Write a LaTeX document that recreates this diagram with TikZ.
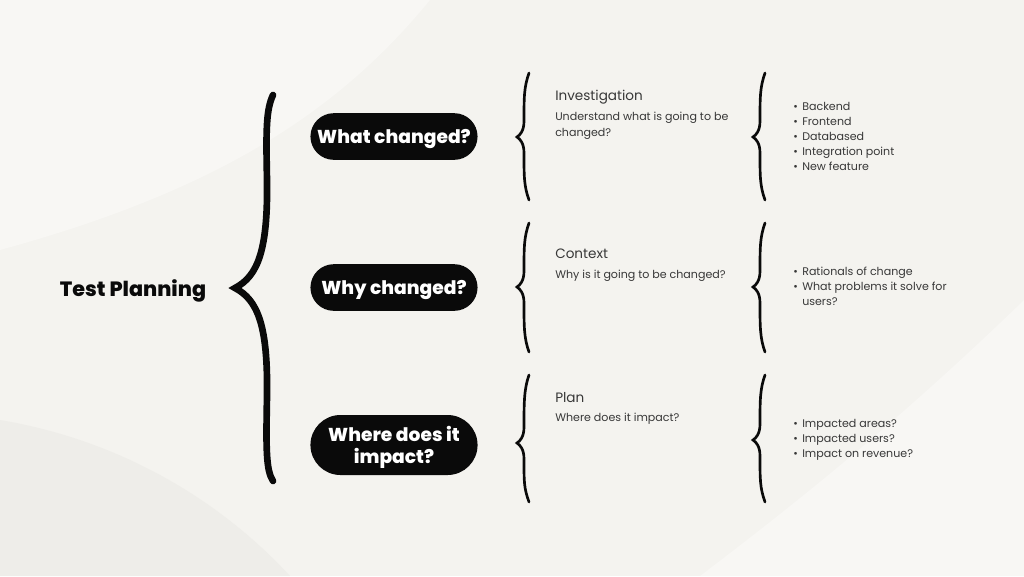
\documentclass[tikz,border=0pt]{standalone}
\usepackage{fontspec}
\setmainfont{Poppins}
\newfontfamily\heavyfont{Poppins ExtraBold}
\usepackage{tikz}
\usetikzlibrary{shapes.misc}
\definecolor{paper}{HTML}{F4F3EF}
\definecolor{paperlight}{HTML}{F8F7F4}
\definecolor{paperdark}{HTML}{EEEDE9}
\definecolor{ink}{HTML}{0A0A0A}
\definecolor{txt}{HTML}{383838}
\tikzstyle{title} = [font={\fontsize{15.5}{18}\heavyfont}, text=ink, text depth=0pt]
\tikzstyle{pill} = [rounded rectangle, fill=ink, text=white, minimum width=132pt, minimum height=35pt, align=center, text depth=0pt, font={\fontsize{14}{17}\heavyfont}]
\tikzstyle{head} = [anchor=base west, inner sep=0pt, text=txt, font={\fontsize{10.2}{12}\selectfont}]
\tikzstyle{body} = [anchor=base west, inner sep=0pt, text=txt, font={\fontsize{8.3}{10}\selectfont}]
\tikzstyle{item} = [body]
\tikzstyle{bigbrace} = [draw=ink, line width=5pt, line cap=round]
\tikzstyle{brace} = [draw=ink, line width=2pt, line cap=round]
% curly brace: x of the ends, top, tip, bottom
\newcommand{\curly}[4]{%
  \draw[brace] (#1,#2) .. controls ({#1-5},{#2+14}) and ({#1-5},{#3-40}) .. ({#1-5},{#3-16})
    .. controls ({#1-5},{#3-6}) and ({#1-9},{#3-2}) .. ({#1-12},#3)
    .. controls ({#1-9},{#3+2}) and ({#1-5},{#3+6}) .. ({#1-5},{#3+16})
    .. controls ({#1-5},{#3+40}) and ({#1-5},{#4-14}) .. (#1,#4);}
\newcommand{\bulletmark}{\makebox[6.75pt][l]{•}}
\begin{document}
\begin{tikzpicture}[x=0.75pt,y=-0.75pt]
    % paper
    \fill[paper] (0,0) rectangle (1024,576);
    \useasboundingbox (0,0) rectangle (1024,576);
    \fill[paperlight] (0,0) -- (430,0) .. controls (340,110) and (220,190) .. (0,250) -- cycle;
    \fill[paperlight] (1024,300) .. controls (900,420) and (800,500) .. (700,576) -- (1024,576) -- cycle;
    \fill[paperdark] (0,420) .. controls (120,440) and (220,500) .. (290,576) -- (0,576) -- cycle;
    % root
    \node[title](root) at (133,288){Test Planning};
    \draw[bigbrace] (273,95) .. controls (266,110) and (266,130) .. (267,180)
      .. controls (268,250) and (258,276) .. (235,288)
      .. controls (258,300) and (268,326) .. (267,396)
      .. controls (266,450) and (266,470) .. (273,481);
    % questions
    \node[pill](what) at (394,136.5){What changed?};
    \node[pill](why) at (394,287.5){Why changed?};
    \node[pill,minimum height=45pt](where) at (394,445){Where does it\\impact?};
    % middle braces
    \curly{529}{73}{137}{200}
    \curly{529}{223}{287}{352}
    \curly{529}{375}{443}{502}
    % stages
    \node[head](inv) at (555,100){Investigation};
    \node[body](inv1) at (555,120.5){Understand what is going to be};
    \node[body](inv2) at (555,136.5){changed?};
    \node[head](ctx) at (555,258.5){Context};
    \node[body](ctx1) at (555,278.5){Why is it going to be changed?};
    \node[head](plan) at (555,402.5){Plan};
    \node[body](plan1) at (555,421.5){Where does it impact?};
    % right braces
    \curly{765}{73}{137}{200}
    \curly{765}{223}{287}{352}
    \curly{765}{375}{440}{502}
    % details
    \node[item](b1) at (793,110.5){\bulletmark Backend};
    \node[item](b2) at (793,125.5){\bulletmark Frontend};
    \node[item](b3) at (793,140.5){\bulletmark Databased};
    \node[item](b4) at (793,155.5){\bulletmark Integration point};
    \node[item](b5) at (793,170.5){\bulletmark New feature};
    \node[item](c1) at (793,275.5){\bulletmark Rationals of change};
    \node[item](c2) at (793,290.5){\bulletmark What problems it solve for};
    \node[item](c3) at (802,305.5){users?};
    \node[item](p1) at (793,427.5){\bulletmark Impacted areas?};
    \node[item](p2) at (793,442.5){\bulletmark Impacted users?};
    \node[item](p3) at (793,457.5){\bulletmark Impact on revenue?};
\end{tikzpicture}
\end{document}
